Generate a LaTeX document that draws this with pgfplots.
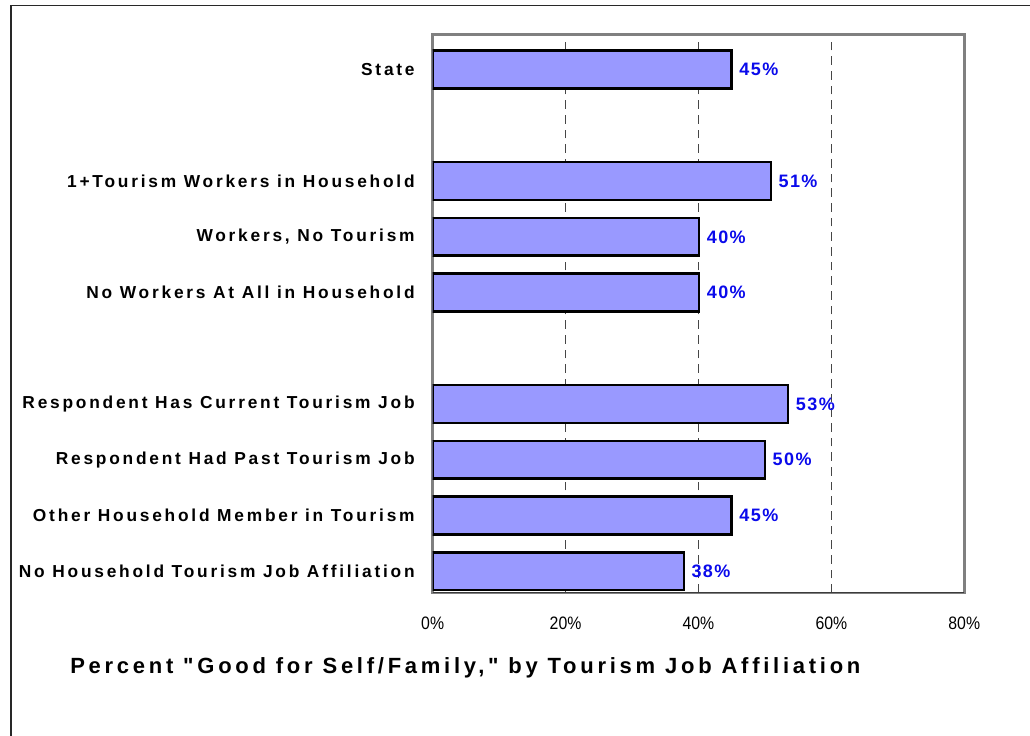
\documentclass[border=0pt]{standalone}
\usepackage{fontspec}
\setmainfont{Liberation Sans}
\usepackage{pgfplots}
\usepackage{pgfplotstable}
\pgfplotsset{compat=1.18}
\newfontfamily\catfont[LetterSpace=16]{Liberation Sans}
\newfontfamily\titlefont[LetterSpace=17]{Liberation Sans}
\newfontfamily\valfont[LetterSpace=8]{Liberation Sans}
\newfontfamily\tickfont[FakeStretch=0.88]{Liberation Sans}
\definecolor{barfill}{RGB}{153,153,255}
\definecolor{valblue}{RGB}{10,10,235}
\definecolor{framegray}{RGB}{128,128,128}
\definecolor{gridgray}{RGB}{70,70,70}

\pgfplotstableread{
pos v lab
9 45.0 45
7 50.9 51
6 40.1 40
5 40.1 40
3 53.5 53
2 50.0 50
1 45.0 45
0 37.8 38
}\bardata

\begin{document}
\begin{tikzpicture}
\useasboundingbox (0,0) rectangle (772.5pt,551.25pt);
\draw[line width=1.1pt, draw={rgb,255:red,40;green,40;blue,40}] (8.25pt,-2pt) -- (8.25pt,547pt) -- (776pt,547pt);
\begin{axis}[
  at={(324.5pt,106.5pt)}, anchor=south west,
  scale only axis, width=398.7pt, height=418.9pt,
  xbar, bar width=0.68,
  xmin=0, xmax=80, ymin=-0.39, ymax=9.63,
  xtick={0,20,40,60,80},
  xticklabels={0\%,20\%,40\%,60\%,80\%},
  ytick={0,1,2,3,5,6,7,9},
  yticklabels={No Household Tourism Job Affiliation,Other Household Member in Tourism,Respondent Had Past Tourism Job,Respondent Has Current Tourism Job,No Workers At All in Household,{Workers, No Tourism},1+Tourism Workers in Household,State},
  major tick length=0pt,
  xmajorgrids,
  major grid style={gridgray, line width=0.8pt, dash pattern=on 6.5pt off 4.5pt},
  axis line style={draw=framegray, line width=2pt},
  yticklabel style={font=\catfont\bfseries\fontsize{13}{15}\selectfont, xshift=-10pt},
  xticklabel style={font=\tickfont\fontsize{13.5}{16}\selectfont, yshift=-14.5pt},
  /pgf/number format/assume math mode=true,
  point meta=explicit,
  nodes near coords={\pgfmathprintnumber[fixed,precision=0]{\pgfplotspointmeta}\%},
  nodes near coords style={font=\valfont\bfseries\fontsize{13.5}{16}\selectfont, text=valblue, anchor=west, xshift=1.5pt},
]
\addplot[draw=black, line width=1.9pt, fill=barfill] table[x=v, y=pos, meta=lab] {\bardata};
\draw[line width=1.6pt, draw={rgb,255:red,60;green,60;blue,60}] (axis cs:0,-0.39) -- (axis cs:80,-0.39);
\end{axis}
\node[anchor=base west, inner sep=0pt, font=\titlefont\bfseries\fontsize{16.5}{19}\selectfont] at (52.5pt,46.5pt) {Percent "Good for Self/Family," by Tourism Job Affiliation};
\end{tikzpicture}
\end{document}
